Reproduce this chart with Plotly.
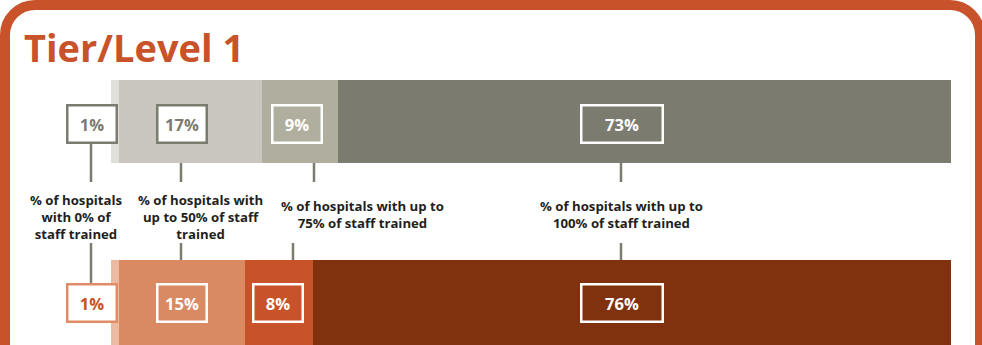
import plotly.graph_objects as go

# ---------------- data ----------------
categories = ["0% of staff trained", "up to 50% of staff trained",
              "up to 75% of staff trained", "up to 100% of staff trained"]
tier1_top = [1, 17, 9, 73]        # grey bar
tier1_bottom = [1, 15, 8, 76]     # orange bar
descriptions = ["% of hospitals<br>with 0% of<br>staff trained",
                "% of hospitals with<br>up to 50% of staff<br>trained",
                "% of hospitals with up to<br>75% of staff trained",
                "% of hospitals with up to<br>100% of staff trained"]
title_text = "Tier/Level 1"

# ---------------- style ----------------
W, H = 982, 345
FONT = "Open Sans"
ORANGE = "#c8532a"
GREY_LINE = "#7b7b70"
top_colors = ["#e1dfd9", "#c8c6be", "#b0ae9e", "#7b7b70"]
bottom_colors = ["#ebbaa1", "#d98a62", "#c8532a", "#80310e"]

def px(x):
    return x / W

def py(y):
    return 1 - y / H

BAR_X0, BAR_X1 = 111, 951
TOP_Y0, TOP_Y1 = 80, 163
BOT_Y0, BOT_Y1 = 260, 345

fig = go.Figure()
for i, (v, c) in enumerate(zip(tier1_top, top_colors)):
    fig.add_trace(go.Bar(x=[v], y=[0], orientation="h", marker=dict(color=c, line=dict(width=0)),
                         width=1, xaxis="x", yaxis="y", name=categories[i], showlegend=False,
                         hoverinfo="skip"))
for i, (v, c) in enumerate(zip(tier1_bottom, bottom_colors)):
    fig.add_trace(go.Bar(x=[v], y=[0], orientation="h", marker=dict(color=c, line=dict(width=0)),
                         width=1, xaxis="x2", yaxis="y2", name=categories[i], showlegend=False,
                         hoverinfo="skip"))

ax = dict(range=[0, 100], showgrid=False, zeroline=False, showticklabels=False,
          domain=[px(BAR_X0), px(BAR_X1)], fixedrange=True)
fig.update_layout(
    width=W, height=H, margin=dict(l=0, r=0, t=0, b=0),
    paper_bgcolor="white", plot_bgcolor="rgba(0,0,0,0)",
    barmode="stack", bargap=0,
    xaxis=dict(**ax, anchor="y"),
    xaxis2=dict(**ax, anchor="y2"),
    yaxis=dict(range=[-0.5, 0.5], domain=[py(TOP_Y1), py(TOP_Y0)], visible=False, anchor="x"),
    yaxis2=dict(range=[-0.5, 0.5], domain=[py(BOT_Y1), py(BOT_Y0)], visible=False, anchor="x2"),
    showlegend=False,
)

shapes = []
# rounded frame
r = 30
k = 0.45
L, T, R = 5, 5, 980
path = (f"M {px(L)},{py(400)} L {px(L)},{py(T + r)} "
        f"C {px(L)},{py(T + r * k)} {px(L + r * k)},{py(T)} {px(L + r)},{py(T)} "
        f"L {px(R - r)},{py(T)} "
        f"C {px(R - r * k)},{py(T)} {px(R)},{py(T + r * k)} {px(R)},{py(T + r)} "
        f"L {px(R)},{py(400)}")
shapes.append(dict(type="path", path=path, xref="paper", yref="paper",
                   line=dict(color=ORANGE, width=10), layer="above"))

# connectors
top_conn_x = [91, 181, 314, 621]
top_conn_y0 = [143, 163, 163, 163]
bot_conn_x = [91, 181, 293, 621]
bot_conn_y1 = [283, 260, 260, 260]
for x, y0 in zip(top_conn_x, top_conn_y0):
    shapes.append(dict(type="line", xref="paper", yref="paper", x0=px(x), x1=px(x),
                       y0=py(y0), y1=py(182), line=dict(color=GREY_LINE, width=2.5)))
for x, y1 in zip(bot_conn_x, bot_conn_y1):
    shapes.append(dict(type="line", xref="paper", yref="paper", x0=px(x), x1=px(x),
                       y0=py(243), y1=py(y1), line=dict(color=GREY_LINE, width=2.5)))
fig.update_layout(shapes=shapes)

ann = []
ann.append(dict(text=f"<b>{title_text}</b>", x=px(22), y=py(47), xref="paper", yref="paper",
                xanchor="left", yanchor="middle", showarrow=False,
                font=dict(family=FONT, size=38, color=ORANGE)))

# value boxes
top_box_x = [91.5, 181.5, 296.5, 621.5]
bot_box_x = [91.5, 181.5, 278, 621.5]
box_w = [47, 47, 47, 79]
top_box_style = [("white", GREY_LINE, GREY_LINE), ("white", GREY_LINE, GREY_LINE),
                 ("rgba(0,0,0,0)", "white", "white"), ("rgba(0,0,0,0)", "white", "white")]
bot_box_style = [("white", "#e08c66", ORANGE), ("rgba(0,0,0,0)", "white", "white"),
                 ("rgba(0,0,0,0)", "white", "white"), ("rgba(0,0,0,0)", "white", "white")]
for vals, xs, styles, yc in [(tier1_top, top_box_x, top_box_style, 123.5),
                             (tier1_bottom, bot_box_x, bot_box_style, 302.5)]:
    for v, x, (bg, bc, tc), w in zip(vals, xs, styles, box_w):
        ann.append(dict(text=f"<b>{v}%</b>", x=px(x), y=py(yc), xref="paper", yref="paper",
                        xanchor="center", yanchor="middle", showarrow=False,
                        width=w, height=35, bgcolor=bg, bordercolor=bc, borderwidth=2.5,
                        borderpad=0, font=dict(family=FONT, size=16.5, color=tc)))

# descriptions
desc_x = [76, 200, 362, 621]
desc_y = [216.5, 216.5, 214, 214]
for t, x, y in zip(descriptions, desc_x, desc_y):
    ann.append(dict(text=f"<b>{t}</b>", x=px(x), y=py(y), xref="paper", yref="paper",
                    xanchor="center", yanchor="middle", showarrow=False, align="center",
                    font=dict(family=FONT, size=13.2, color="#231f20")))
fig.update_layout(annotations=ann)

fig.write_html("out.html")
